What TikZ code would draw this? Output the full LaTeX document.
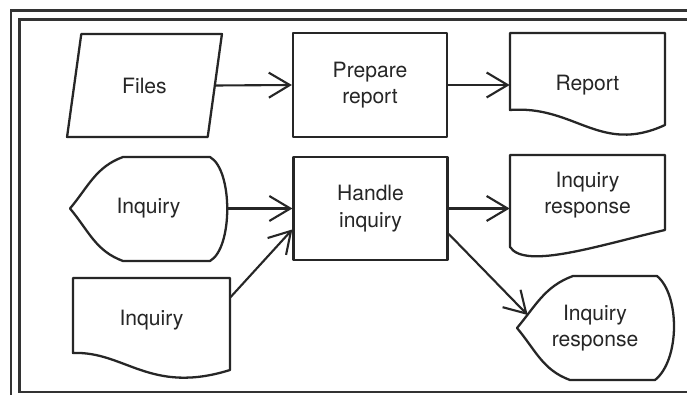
\documentclass[tikz,border=0pt]{standalone}
\usepackage{fontspec}
\setmainfont{TeX Gyre Heros}
\usetikzlibrary{positioning, arrows.meta, shapes.geometric}

\begin{document}
\begin{tikzpicture}[
    x=0.02cm, y=0.02cm,
    outline/.style={draw=black!85, line width=1.3pt, line join=round},
    frame/.style={draw=black!80, line width=1.2pt},
    label/.style={align=center, font=\fontsize{12}{15}\selectfont, text=black!85},
    process/.style={rectangle, outline, label, minimum width=3.08cm, minimum height=2.07cm},
    data/.style={trapezium, trapezium left angle=77, trapezium right angle=103, trapezium stretches=true, outline, label, minimum width=3.1cm, minimum height=2.06cm},
    docbox/.style={rectangle, label, minimum width=3.1cm, minimum height=1.6cm},
    dispbox/.style={rectangle, label, minimum width=3.12cm, minimum height=2.06cm},
    arrow/.style={-{Straight Barb[length=0.42cm, width=0.5cm]}, draw=black!85, line width=1.2pt}
]

% Page and double frame
\useasboundingbox (0,0) rectangle (687,395);
\clip (0,0) rectangle (687,395);
\fill[white] (0,0) rectangle (687,395);
\draw[frame] (11,384.5) rectangle (710,-10);
\draw[frame] (19.5,375.5) rectangle (700,3);

% Components
\node[process] (prep) at (370,310) {Prepare\\report};
\node[data] (files) at (144.5,309.5) {Files};
\node[docbox, minimum height=2.08cm] (rep) at (587.5,310) {Report};

\node[process] (handle) at (370.5,186.5) {Handle\\inquiry};
\node[dispbox] (inqdisp) at (148.5,186.5) {Inquiry};
\node[docbox] (irespdoc) at (587.5,200) {Inquiry\\response};

\node[docbox, minimum width=3.14cm, minimum height=1.68cm] (inqdoc) at (151.5,75) {Inquiry};
\node[dispbox, minimum height=2.08cm] (irespdisp) at (595,67) {Inquiry\\response};

% Outlines of documents and displays
\draw[outline] (510,362) -- (665,362) -- (665,270) .. controls (600,240) and (575,290) .. (510,285) -- cycle;
\draw[outline] (510,240) -- (665,240) -- (665,165) .. controls (600,150) and (525,125) .. (510,148) -- cycle;
\draw[outline] (73,117) -- (230,117) -- (230,25) .. controls (150,0) and (125,44) .. (73,42) -- cycle;

\draw[outline] (123,238) -- (210,238) .. controls (233,225) and (233,147) .. (210,134) -- (123,134)
    to[out=160, in=-50] (70,186.5) to[out=50, in=200] cycle;
\draw[outline] (573,119) -- (657,119) .. controls (680,100) and (680,35) .. (655,15) -- (570,15)
    to[out=160, in=-50] (517,67) to[out=50, in=200] cycle;

\coordinate (irespin) at ([shift={(11,13)}]irespdisp.west);

% Arrows
\draw[arrow] (files.east) -- (prep.west);
\draw[arrow] (prep.east) -- (rep.west);
\draw[arrow] (inqdisp.east) -- (handle.west);
\draw[arrow] (handle.east) -- (handle.east -| irespdoc.west);
\draw[arrow] (inqdoc.16) -- (handle.195);
\draw[arrow] (handle.-18) -- (irespin);

\end{tikzpicture}
\end{document}
